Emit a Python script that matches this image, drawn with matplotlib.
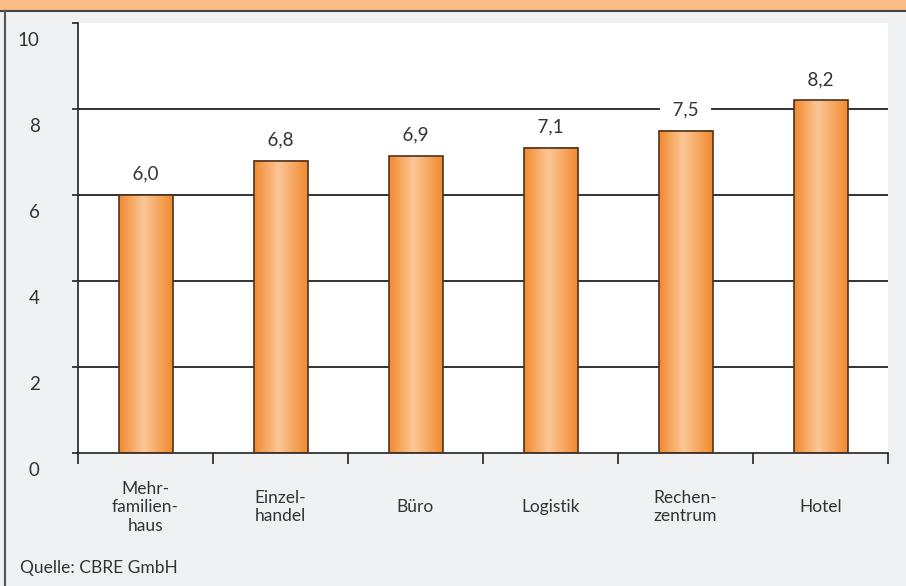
import numpy as np
import matplotlib
matplotlib.use("Agg")
import matplotlib.pyplot as plt
from matplotlib.patches import Rectangle
from matplotlib.lines import Line2D
from matplotlib.colors import LinearSegmentedColormap
from matplotlib.transforms import ScaledTranslation

# data
categories = ["Mehr-\nfamilien-\nhaus", "Einzel-\nhandel", "Büro", "Logistik",
              "Rechen-\nzentrum", "Hotel"]
values = [6.0, 6.8, 6.9, 7.1, 7.5, 8.2]
yticks = [0, 2, 4, 6, 8, 10]
source = "Quelle: CBRE GmbH"

plt.rcParams['font.family'] = ['Lato', 'DejaVu Sans']
txt = '#333333'
bg = '#F0F1F3'

fig = plt.figure(figsize=(9.06, 5.86), dpi=100, facecolor=bg)

# title strip (text is cut off in the original) and left frame line
fig.patches.append(Rectangle((0, 1 - 10.5 / 586), 1, 10.5 / 586, transform=fig.transFigure,
                             facecolor='#FBBC86', edgecolor='none', zorder=0))
fig.lines.append(Line2D([0, 1], [1 - 10.5 / 586] * 2, transform=fig.transFigure,
                        color='#444444', lw=1.5))
fig.lines.append(Line2D([5 / 906] * 2, [0, 1 - 10.5 / 586], transform=fig.transFigure,
                        color='#555555', lw=1.5))

ax = fig.add_axes([78 / 906, 133 / 586, 810 / 906, 430 / 586])
ax.set_facecolor('white')
ax.set_xlim(0, len(values))
ax.set_ylim(0, 10)

for y in yticks[1:-1]:
    ax.axhline(y, color='#222222', lw=1.3, zorder=1)

cmap = LinearSegmentedColormap.from_list(
    'bar', [(0, '#F28A2E'), (0.45, '#FBC797'), (1, '#F28A2E')])
grad = np.linspace(0, 1, 200).reshape(1, -1)
w = 0.4
for i, v in enumerate(values):
    x0 = i + 0.5 - w / 2
    ax.imshow(grad, cmap=cmap, extent=(x0, x0 + w, 0, v), aspect='auto',
              zorder=2, interpolation='bilinear')
    ax.add_patch(Rectangle((x0, 0), w, v, facecolor='none', edgecolor='#4A3320',
                           lw=1.2, zorder=3))
    ax.annotate("  " + f"{v:.1f}".replace('.', ',') + "  ", (i + 0.5, v),
                xytext=(0, 9), textcoords='offset points', ha='center', va='bottom',
                fontsize=13.5, color=txt, zorder=4,
                bbox=dict(boxstyle='square,pad=0.15', fc='white', ec='none'))

for s in ['top', 'right']:
    ax.spines[s].set_visible(False)
for s in ['left', 'bottom']:
    ax.spines[s].set_color('#222222')
    ax.spines[s].set_linewidth(1.2)

ax.set_yticks(yticks)
ax.set_yticklabels([str(t) for t in yticks], fontsize=13.5, color=txt)
ax.tick_params(axis='y', length=4.5, width=1.2, color='#222222', pad=23)
shift = ScaledTranslation(0, -16 / 100, fig.dpi_scale_trans)
for lab in ax.get_yticklabels():
    lab.set_ha('right')
    lab.set_transform(lab.get_transform() + shift)

ax.set_xticks(np.arange(len(values)) + 0.5)
ax.set_xticklabels(categories, fontsize=12.5, color=txt, linespacing=1.2, va='center')
ax.tick_params(axis='x', which='major', length=0, pad=39)
ax.set_xticks(np.arange(len(values) + 1), minor=True)
ax.tick_params(axis='x', which='minor', length=8, width=1.2, color='#222222')

fig.text(20 / 906, 1 - 568 / 586, source, fontsize=12.5, color=txt, va='center', ha='left')

fig.savefig('out.png', dpi=100, facecolor=bg)
